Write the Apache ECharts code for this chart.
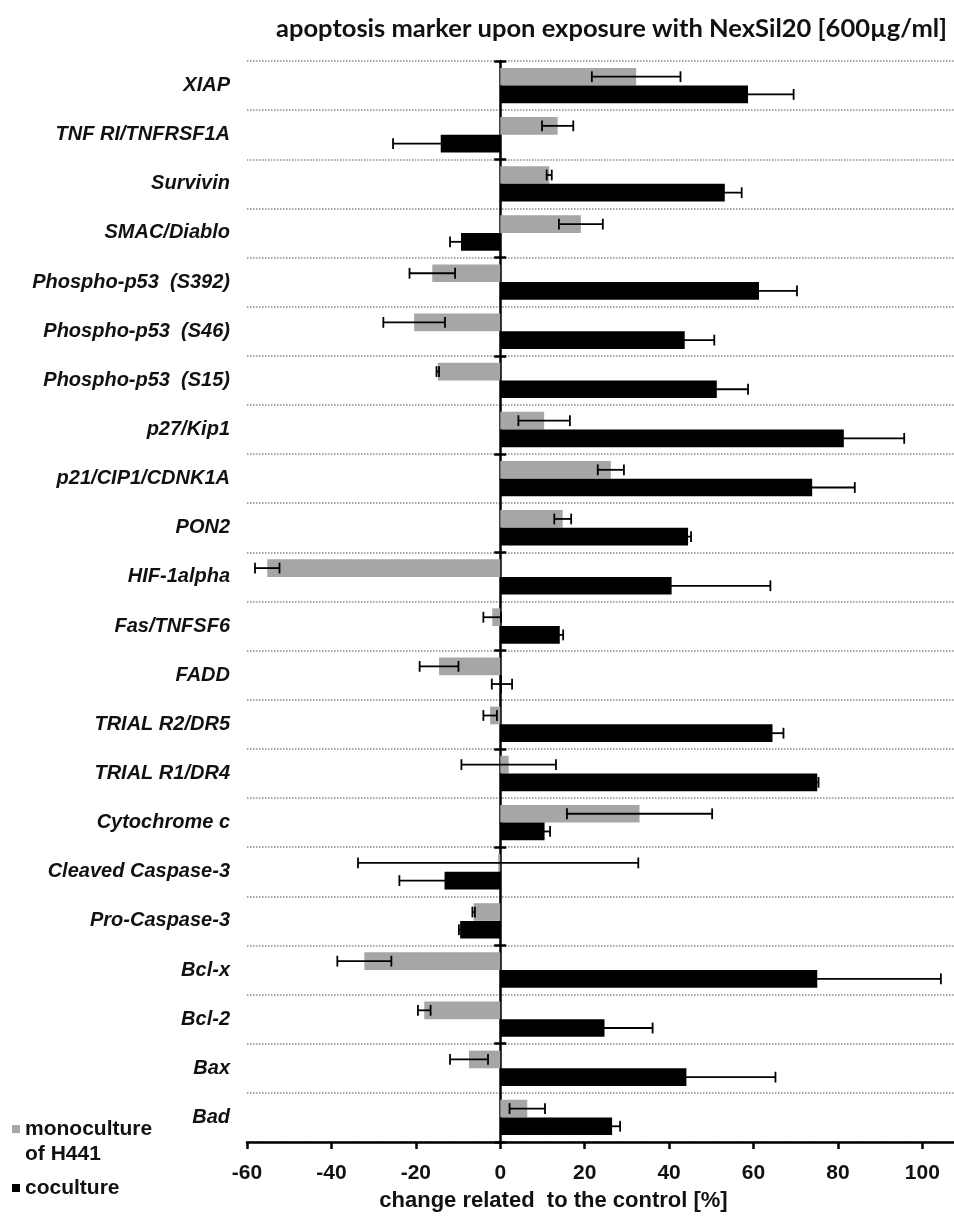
<!DOCTYPE html>
<html>
<head>
<meta charset="utf-8">
<script src="https://cdn.jsdelivr.net/npm/echarts@6/dist/echarts.min.js"></script>
<style>
  html, body { margin: 0; padding: 0; background: #fff; }
  #chart { width: 954px; height: 1225px; }
</style>
</head>
<body>
<div id="chart"></div>
<script>
// ---- data ----
const categories = ['XIAP', 'TNF RI/TNFRSF1A', 'Survivin', 'SMAC/Diablo', 'Phospho-p53  (S392)',
  'Phospho-p53  (S46)', 'Phospho-p53  (S15)', 'p27/Kip1', 'p21/CIP1/CDNK1A', 'PON2', 'HIF-1alpha',
  'Fas/TNFSF6', 'FADD', 'TRIAL R2/DR5', 'TRIAL R1/DR4', 'Cytochrome c', 'Cleaved Caspase-3',
  'Pro-Caspase-3', 'Bcl-x', 'Bcl-2', 'Bax', 'Bad'];
const monoName = 'monoculture of H441';
const coName = 'coculture';
const mono    = [32.2, 13.6, 11.6, 19.1, -16.1, -20.4, -14.8, 10.4, 26.2, 14.8, -55.2, -1.9, -14.5, -2.4, 2.0, 33.0, -0.5, -6.3, -32.2, -18.0, -7.4, 6.4];
const monoErr = [10.5, 3.7, 0.6, 5.2, 5.4, 7.3, 0.3, 6.1, 3.1, 2.0, 2.9, 2.1, 4.6, 1.6, 11.2, 17.2, 33.2, 0.3, 6.4, 1.5, 4.5, 4.2];
const co      = [58.7, -14.1, 53.2, -9.3, 61.3, 43.7, 51.3, 81.4, 73.9, 44.5, 40.6, 14.1, 0.4, 64.5, 75.1, 10.5, -13.2, -9.5, 75.1, 24.7, 44.1, 26.5];
const coErr   = [10.8, 11.3, 4.0, 2.6, 9.0, 7.0, 7.4, 14.3, 10.1, 0.7, 23.4, 0.8, 2.4, 2.6, 0.3, 1.3, 10.7, 0.3, 29.3, 11.4, 21.1, 1.9];
const xTicks  = [-60, -40, -20, 0, 20, 40, 60, 80, 100];

// ---- chart ----
const BAR_FRAC = 0.36;
const TXT = '#111';
const SANS = '"Liberation Sans", Arial, sans-serif';
const chart = echarts.init(document.getElementById('chart'), null, { renderer: 'canvas' });

function errData(vals, errs) {
  return vals.map((v, i) => [v - errs[i], v + errs[i], i]);
}
function errRender(sign) {
  return function (params, api) {
    const idx = api.value(2);
    const p1 = api.coord([api.value(0), idx]);
    const p2 = api.coord([api.value(1), idx]);
    const band = api.size([0, 1])[1];
    const y = p1[1] + sign * band * BAR_FRAC / 2;
    const h = band * 0.11;
    const style = { stroke: '#000', lineWidth: 1.8 };
    return {
      type: 'group',
      children: [
        { type: 'line', shape: { x1: p1[0], y1: y, x2: p2[0], y2: y }, style: style },
        { type: 'line', shape: { x1: p1[0], y1: y - h, x2: p1[0], y2: y + h }, style: style },
        { type: 'line', shape: { x1: p2[0], y1: y - h, x2: p2[0], y2: y + h }, style: style }
      ]
    };
  };
}

const legendText = { fontFamily: SANS, fontWeight: 'bold', fontSize: 21, color: TXT, lineHeight: 22 };

const option = {
  backgroundColor: '#fff',
  animation: false,
  title: {
    text: 'apoptosis marker upon exposure with NexSil20 [600µg/ml]',
    left: 271, top: 11,
    textStyle: { fontFamily: 'Lato, sans-serif', fontWeight: 'bold', fontSize: 25.5, color: TXT }
  },
  legend: [
    {
      data: [monoName], orient: 'vertical', left: 12, top: 1118, padding: 0,
      itemWidth: 8, itemHeight: 8, icon: 'rect', itemGap: 4,
      formatter: () => 'monoculture',
      textStyle: legendText
    },
    {
      data: [coName], orient: 'vertical', left: 12, top: 1177, padding: 0,
      itemWidth: 8, itemHeight: 8, icon: 'rect',
      textStyle: legendText
    }
  ],
  graphic: [{
    type: 'text', left: 25, top: 1144,
    style: { text: 'of H441', font: 'bold 21px "Liberation Sans", Arial, sans-serif', fill: TXT }
  }],
  grid: { left: 247, right: 0, top: 61, bottom: 83, containLabel: false },
  xAxis: {
    type: 'value', min: -60, max: 107.5, interval: 20,
    axisLine: { show: true, onZero: false, lineStyle: { color: '#000', width: 2.5 } },
    axisTick: { show: true, length: 7, customValues: xTicks, lineStyle: { color: '#000', width: 2.5 } },
    axisLabel: {
      customValues: xTicks, margin: 21,
      fontFamily: SANS, fontWeight: 'bold', fontSize: 21, color: TXT
    },
    splitLine: { show: false },
    name: 'change related  to the control [%]',
    nameLocation: 'middle', nameGap: 48,
    nameTextStyle: { fontFamily: SANS, fontWeight: 'bold', fontSize: 22, color: TXT, padding: [0, 94, 0, 0] }
  },
  yAxis: [
    {
      type: 'category', data: categories, inverse: true,
      axisLine: { show: false, onZero: false },
      axisTick: { show: false },
      axisLabel: {
        margin: 17, fontFamily: SANS, fontWeight: 'bold', fontStyle: 'italic',
        fontSize: 20, color: TXT
      },
      splitLine: { show: true, interval: 0, lineStyle: { color: '#8a8a8a', width: 1.5, type: [1.5, 1.5] } }
    },
    {
      type: 'category', data: categories, inverse: true, position: 'left',
      axisLine: { show: true, onZero: true, onZeroAxisIndex: 0, lineStyle: { color: '#000', width: 2.5 } },
      axisTick: { show: true, interval: 1, length: 6, lineStyle: { color: '#000', width: 2.5 } },
      axisLabel: { show: false },
      splitLine: { show: false }
    },
    {
      type: 'category', data: categories, inverse: true, position: 'left',
      axisLine: { show: false, onZero: true, onZeroAxisIndex: 0 },
      axisTick: { show: true, inside: true, interval: 1, length: 6, lineStyle: { color: '#000', width: 2.5 } },
      axisLabel: { show: false },
      splitLine: { show: false }
    }
  ],
  series: [
    {
      name: monoName, type: 'bar', data: mono, barWidth: (BAR_FRAC * 100) + '%', barGap: '0%',
      itemStyle: { color: '#a6a6a6' }, z: 2
    },
    {
      name: coName, type: 'bar', data: co, barWidth: (BAR_FRAC * 100) + '%', barGap: '0%',
      itemStyle: { color: '#000' }, z: 2
    },
    {
      name: 'monoErr', type: 'custom', renderItem: errRender(-1),
      data: errData(mono, monoErr), encode: { x: [0, 1], y: 2 }, z: 5, silent: true
    },
    {
      name: 'coErr', type: 'custom', renderItem: errRender(1),
      data: errData(co, coErr), encode: { x: [0, 1], y: 2 }, z: 5, silent: true
    }
  ]
};
chart.setOption(option);
</script>
</body>
</html>
